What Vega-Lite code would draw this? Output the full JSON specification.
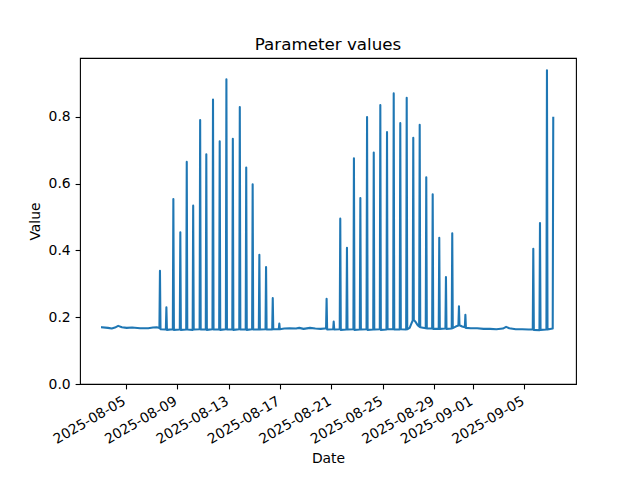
{
  "$schema": "https://vega.github.io/schema/vega-lite/v6.json",
  "width": 496,
  "height": 326,
  "autosize": {"type": "none"},
  "padding": {"left": 80, "top": 58, "right": 64, "bottom": 96},
  "background": "white",
  "title": {"text": "Parameter values", "fontSize": 16.7, "fontWeight": "normal", "font": "DejaVu Sans", "color": "black", "offset": 8, "baseline": "bottom", "dy": 21},
  "data": {"values": [
    {"date": "2025-08-03T04:00", "value": 0.170},
    {"date": "2025-08-03T15:00", "value": 0.168},
    {"date": "2025-08-03T22:00", "value": 0.166},
    {"date": "2025-08-04T04:00", "value": 0.169},
    {"date": "2025-08-04T10:00", "value": 0.174},
    {"date": "2025-08-04T17:00", "value": 0.170},
    {"date": "2025-08-05T02:00", "value": 0.168},
    {"date": "2025-08-05T12:00", "value": 0.169},
    {"date": "2025-08-06T03:00", "value": 0.167},
    {"date": "2025-08-06T18:00", "value": 0.167},
    {"date": "2025-08-07T03:00", "value": 0.169},
    {"date": "2025-08-07T10:00", "value": 0.170},
    {"date": "2025-08-07T15:00", "value": 0.168},
    {"date": "2025-08-07T16:00", "value": 0.339},
    {"date": "2025-08-07T17:00", "value": 0.164},
    {"date": "2025-08-08T03:00", "value": 0.163},
    {"date": "2025-08-08T04:00", "value": 0.230},
    {"date": "2025-08-08T05:00", "value": 0.162},
    {"date": "2025-08-08T16:00", "value": 0.164},
    {"date": "2025-08-08T17:00", "value": 0.554},
    {"date": "2025-08-08T18:00", "value": 0.162},
    {"date": "2025-08-09T05:00", "value": 0.163},
    {"date": "2025-08-09T06:00", "value": 0.454},
    {"date": "2025-08-09T07:00", "value": 0.162},
    {"date": "2025-08-09T17:00", "value": 0.163},
    {"date": "2025-08-09T18:00", "value": 0.665},
    {"date": "2025-08-09T19:00", "value": 0.163},
    {"date": "2025-08-10T05:00", "value": 0.162},
    {"date": "2025-08-10T06:00", "value": 0.534},
    {"date": "2025-08-10T07:00", "value": 0.163},
    {"date": "2025-08-10T18:00", "value": 0.164},
    {"date": "2025-08-10T19:00", "value": 0.790},
    {"date": "2025-08-10T20:00", "value": 0.163},
    {"date": "2025-08-11T05:30", "value": 0.163},
    {"date": "2025-08-11T06:30", "value": 0.688},
    {"date": "2025-08-11T07:30", "value": 0.162},
    {"date": "2025-08-11T18:00", "value": 0.164},
    {"date": "2025-08-11T19:00", "value": 0.852},
    {"date": "2025-08-11T20:00", "value": 0.163},
    {"date": "2025-08-12T06:30", "value": 0.163},
    {"date": "2025-08-12T07:30", "value": 0.727},
    {"date": "2025-08-12T08:30", "value": 0.162},
    {"date": "2025-08-12T19:00", "value": 0.164},
    {"date": "2025-08-12T20:00", "value": 0.912},
    {"date": "2025-08-12T21:00", "value": 0.163},
    {"date": "2025-08-13T07:00", "value": 0.163},
    {"date": "2025-08-13T08:00", "value": 0.734},
    {"date": "2025-08-13T09:00", "value": 0.162},
    {"date": "2025-08-13T20:00", "value": 0.164},
    {"date": "2025-08-13T21:00", "value": 0.829},
    {"date": "2025-08-13T22:00", "value": 0.163},
    {"date": "2025-08-14T08:00", "value": 0.163},
    {"date": "2025-08-14T09:00", "value": 0.648},
    {"date": "2025-08-14T10:00", "value": 0.162},
    {"date": "2025-08-14T20:00", "value": 0.164},
    {"date": "2025-08-14T21:00", "value": 0.598},
    {"date": "2025-08-14T22:00", "value": 0.163},
    {"date": "2025-08-15T08:30", "value": 0.163},
    {"date": "2025-08-15T09:30", "value": 0.387},
    {"date": "2025-08-15T10:30", "value": 0.163},
    {"date": "2025-08-15T21:00", "value": 0.164},
    {"date": "2025-08-15T22:00", "value": 0.350},
    {"date": "2025-08-15T23:00", "value": 0.163},
    {"date": "2025-08-16T09:30", "value": 0.163},
    {"date": "2025-08-16T10:30", "value": 0.257},
    {"date": "2025-08-16T11:30", "value": 0.164},
    {"date": "2025-08-16T21:45", "value": 0.164},
    {"date": "2025-08-16T22:45", "value": 0.181},
    {"date": "2025-08-16T23:45", "value": 0.164},
    {"date": "2025-08-17T08:00", "value": 0.166},
    {"date": "2025-08-17T18:00", "value": 0.167},
    {"date": "2025-08-18T06:00", "value": 0.166},
    {"date": "2025-08-18T12:00", "value": 0.168},
    {"date": "2025-08-18T20:00", "value": 0.165},
    {"date": "2025-08-19T08:00", "value": 0.168},
    {"date": "2025-08-19T18:00", "value": 0.166},
    {"date": "2025-08-20T04:00", "value": 0.165},
    {"date": "2025-08-20T12:00", "value": 0.166},
    {"date": "2025-08-20T14:00", "value": 0.166},
    {"date": "2025-08-20T15:00", "value": 0.255},
    {"date": "2025-08-20T16:00", "value": 0.163},
    {"date": "2025-08-21T03:15", "value": 0.164},
    {"date": "2025-08-21T04:15", "value": 0.187},
    {"date": "2025-08-21T05:15", "value": 0.163},
    {"date": "2025-08-21T15:30", "value": 0.164},
    {"date": "2025-08-21T16:30", "value": 0.495},
    {"date": "2025-08-21T17:30", "value": 0.162},
    {"date": "2025-08-22T04:00", "value": 0.163},
    {"date": "2025-08-22T05:00", "value": 0.408},
    {"date": "2025-08-22T06:00", "value": 0.163},
    {"date": "2025-08-22T17:00", "value": 0.164},
    {"date": "2025-08-22T18:00", "value": 0.676},
    {"date": "2025-08-22T19:00", "value": 0.162},
    {"date": "2025-08-23T05:00", "value": 0.163},
    {"date": "2025-08-23T06:00", "value": 0.557},
    {"date": "2025-08-23T07:00", "value": 0.163},
    {"date": "2025-08-23T17:30", "value": 0.164},
    {"date": "2025-08-23T18:30", "value": 0.799},
    {"date": "2025-08-23T19:30", "value": 0.162},
    {"date": "2025-08-24T06:00", "value": 0.163},
    {"date": "2025-08-24T07:00", "value": 0.693},
    {"date": "2025-08-24T08:00", "value": 0.163},
    {"date": "2025-08-24T18:15", "value": 0.164},
    {"date": "2025-08-24T19:15", "value": 0.835},
    {"date": "2025-08-24T20:15", "value": 0.162},
    {"date": "2025-08-25T06:45", "value": 0.163},
    {"date": "2025-08-25T07:45", "value": 0.754},
    {"date": "2025-08-25T08:45", "value": 0.164},
    {"date": "2025-08-25T19:15", "value": 0.164},
    {"date": "2025-08-25T20:15", "value": 0.870},
    {"date": "2025-08-25T21:15", "value": 0.163},
    {"date": "2025-08-26T07:30", "value": 0.163},
    {"date": "2025-08-26T08:30", "value": 0.781},
    {"date": "2025-08-26T09:30", "value": 0.164},
    {"date": "2025-08-26T19:30", "value": 0.163},
    {"date": "2025-08-26T20:30", "value": 0.857},
    {"date": "2025-08-26T21:30", "value": 0.164},
    {"date": "2025-08-27T02:00", "value": 0.168},
    {"date": "2025-08-27T05:00", "value": 0.180},
    {"date": "2025-08-27T07:45", "value": 0.190},
    {"date": "2025-08-27T08:45", "value": 0.737},
    {"date": "2025-08-27T09:45", "value": 0.192},
    {"date": "2025-08-27T13:00", "value": 0.186},
    {"date": "2025-08-27T17:00", "value": 0.176},
    {"date": "2025-08-27T19:45", "value": 0.172},
    {"date": "2025-08-27T20:45", "value": 0.776},
    {"date": "2025-08-27T21:45", "value": 0.170},
    {"date": "2025-08-28T08:00", "value": 0.167},
    {"date": "2025-08-28T09:00", "value": 0.619},
    {"date": "2025-08-28T10:00", "value": 0.166},
    {"date": "2025-08-28T20:00", "value": 0.166},
    {"date": "2025-08-28T21:00", "value": 0.568},
    {"date": "2025-08-28T22:00", "value": 0.165},
    {"date": "2025-08-29T08:15", "value": 0.165},
    {"date": "2025-08-29T09:15", "value": 0.438},
    {"date": "2025-08-29T10:15", "value": 0.165},
    {"date": "2025-08-29T20:45", "value": 0.166},
    {"date": "2025-08-29T21:45", "value": 0.320},
    {"date": "2025-08-29T22:45", "value": 0.165},
    {"date": "2025-08-30T08:30", "value": 0.166},
    {"date": "2025-08-30T09:30", "value": 0.451},
    {"date": "2025-08-30T10:30", "value": 0.167},
    {"date": "2025-08-30T16:00", "value": 0.172},
    {"date": "2025-08-30T21:00", "value": 0.175},
    {"date": "2025-08-30T22:00", "value": 0.233},
    {"date": "2025-08-30T23:00", "value": 0.176},
    {"date": "2025-08-31T04:00", "value": 0.172},
    {"date": "2025-08-31T09:00", "value": 0.170},
    {"date": "2025-08-31T10:00", "value": 0.207},
    {"date": "2025-08-31T11:00", "value": 0.168},
    {"date": "2025-08-31T20:00", "value": 0.167},
    {"date": "2025-09-01T08:00", "value": 0.167},
    {"date": "2025-09-01T20:00", "value": 0.165},
    {"date": "2025-09-02T08:00", "value": 0.165},
    {"date": "2025-09-02T20:00", "value": 0.164},
    {"date": "2025-09-03T08:00", "value": 0.166},
    {"date": "2025-09-03T14:00", "value": 0.171},
    {"date": "2025-09-03T20:00", "value": 0.167},
    {"date": "2025-09-04T08:00", "value": 0.164},
    {"date": "2025-09-04T20:00", "value": 0.164},
    {"date": "2025-09-05T08:00", "value": 0.163},
    {"date": "2025-09-05T15:45", "value": 0.163},
    {"date": "2025-09-05T16:45", "value": 0.405},
    {"date": "2025-09-05T17:45", "value": 0.162},
    {"date": "2025-09-06T04:15", "value": 0.161},
    {"date": "2025-09-06T05:15", "value": 0.482},
    {"date": "2025-09-06T06:15", "value": 0.162},
    {"date": "2025-09-06T17:15", "value": 0.163},
    {"date": "2025-09-06T18:15", "value": 0.939},
    {"date": "2025-09-06T19:15", "value": 0.163},
    {"date": "2025-09-07T05:00", "value": 0.166},
    {"date": "2025-09-07T06:00", "value": 0.797}
  ]},
  "mark": {"type": "line", "color": "#1f77b4", "strokeWidth": 2.08, "strokeJoin": "round", "strokeCap": "square", "clip": true},
  "encoding": {
    "x": {
      "field": "date",
      "type": "temporal",
      "title": "Date",
      "scale": {"domain": [
        {"year": 2025, "month": 8, "date": 1, "hours": 10, "minutes": 46},
        {"year": 2025, "month": 9, "date": 9, "hours": 0, "minutes": 27}
      ], "nice": false},
      "axis": {
        "values": [
          {"year": 2025, "month": 8, "date": 5},
          {"year": 2025, "month": 8, "date": 9},
          {"year": 2025, "month": 8, "date": 13},
          {"year": 2025, "month": 8, "date": 17},
          {"year": 2025, "month": 8, "date": 21},
          {"year": 2025, "month": 8, "date": 25},
          {"year": 2025, "month": 8, "date": 29},
          {"year": 2025, "month": 9, "date": 1},
          {"year": 2025, "month": 9, "date": 5}
        ],
        "format": "%Y-%m-%d",
        "labelAngle": -30,
        "labelAlign": "right",
        "labelBaseline": "top",
        "labelOffset": -5,
        "labelPadding": 4.9,
        "titlePadding": 5.5
      }
    },
    "y": {
      "field": "value",
      "type": "quantitative",
      "title": "Value",
      "scale": {"domain": [0, 0.976], "nice": false, "zero": true},
      "axis": {
        "values": [0, 0.2, 0.4, 0.6, 0.8],
        "format": ".1f",
        "labelPadding": 4.9,
        "titlePadding": 6
      }
    }
  },
  "config": {
    "font": "DejaVu Sans",
    "view": {"stroke": "black", "strokeWidth": 1.1},
    "axis": {
      "grid": false,
      "domain": false,
      "ticks": true,
      "tickColor": "black",
      "tickSize": 4.9,
      "tickWidth": 1.1,
      "labelFontSize": 13.9,
      "labelColor": "black",
      "labelFont": "DejaVu Sans",
      "titleFont": "DejaVu Sans",
      "titleFontSize": 13.9,
      "titleFontWeight": "normal",
      "titleColor": "black",
      "labelOverlap": false,
      "labelFlush": false
    }
  }
}
